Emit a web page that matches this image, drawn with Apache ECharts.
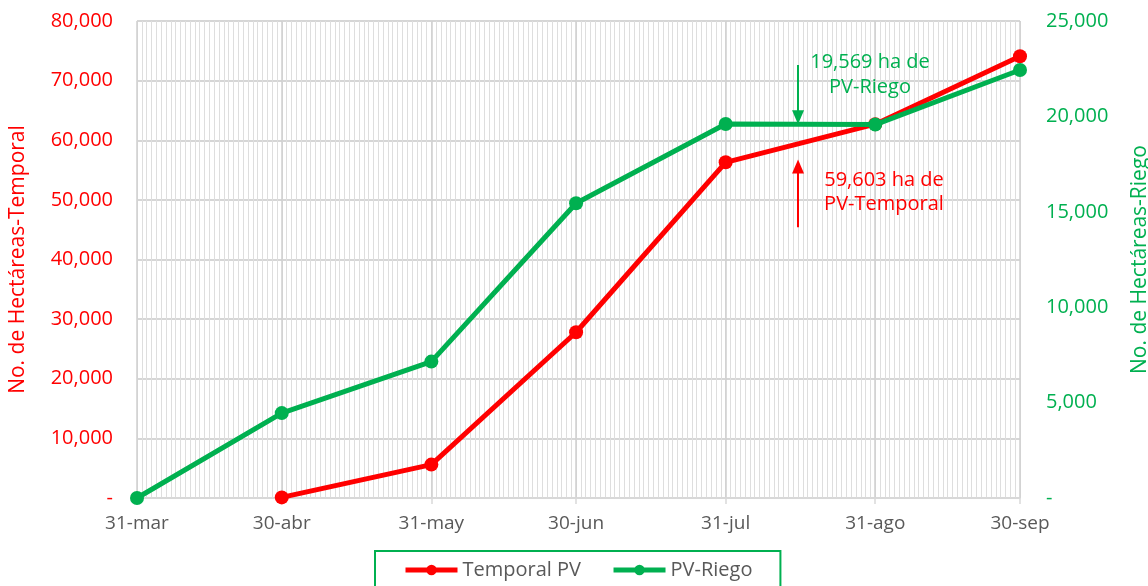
<!DOCTYPE html>
<html>
<head>
<meta charset="utf-8">
<script src="https://cdn.jsdelivr.net/npm/echarts@6/dist/echarts.min.js"></script>
<style>
  html, body { margin: 0; padding: 0; background: #fff; }
  #chart { width: 1148px; height: 586px; }
</style>
</head>
<body>
<div id="chart"></div>
<script>
// month-end dates shown on the x axis
const monthLabels = ['31-mar', '30-abr', '31-may', '30-jun', '31-jul', '31-ago', '30-sep'];
// hectares
const temporalPV = [null, 100, 5600, 27800, 56300, 62700, 74100];
const pvRiego = [0, 4450, 7150, 15450, 19600, 19570, 22430];
const leftTicks = [0, 80000, 10000];
const rightTicks = [0, 25000, 5000];

const fontFamily = '"Open Sans", "Noto Sans", sans-serif';
const red = '#ff0000';
const green = '#00b050';
const textGrey = '#595959';

// one category per day from 31-mar to 30-sep
const monthNames = ['ene', 'feb', 'mar', 'abr', 'may', 'jun', 'jul', 'ago', 'sep', 'oct', 'nov', 'dic'];
const days = [];
for (let d = new Date(2021, 2, 31); d <= new Date(2021, 8, 30); d.setDate(d.getDate() + 1)) {
  days.push(d.getDate() + '-' + monthNames[d.getMonth()]);
}
const isMonthEnd = (i) => monthLabels.includes(days[i]);
const fmt = (v) => (v === 0 ? '-' : v.toLocaleString('en-US'));

const chart = echarts.init(document.getElementById('chart'));

chart.setOption({
  animation: false,
  textStyle: { fontFamily },
  grid: { left: 137, right: 128, top: 21, bottom: 88, outerBoundsMode: 'none' },
  legend: {
    left: 375,
    top: 551,
    padding: [9, 28, 14, 28],
    itemWidth: 52,
    itemHeight: 13,
    itemGap: 30,
    borderColor: green,
    borderWidth: 2,
    lineStyle: { width: 5 },
    textStyle: { color: textGrey, fontSize: 20, fontFamily }
  },
  xAxis: [{
    type: 'category',
    data: days,
    boundaryGap: false,
    axisLine: { lineStyle: { color: '#d9d9d9', width: 1.5 } },
    axisTick: { interval: (i) => isMonthEnd(i), length: 6, lineStyle: { color: '#d9d9d9', width: 1.5 } },
    axisLabel: { interval: (i) => isMonthEnd(i), color: textGrey, fontSize: 19, margin: 16 },
    splitLine: { show: true, interval: 0, lineStyle: { color: '#dedede', width: 1 } }
  }, {
    type: 'category',
    data: days,
    boundaryGap: false,
    position: 'bottom',
    axisLine: { show: false },
    axisTick: { show: false },
    axisLabel: { show: false },
    splitLine: { show: true, interval: (i) => isMonthEnd(i), lineStyle: { color: '#cfcfcf', width: 1.5 } }
  }],
  yAxis: [{
    type: 'value',
    min: leftTicks[0],
    max: leftTicks[1],
    interval: leftTicks[2],
    name: 'No. de Hectáreas-Temporal',
    nameLocation: 'middle',
    nameRotate: 90,
    nameGap: 108,
    nameTextStyle: { color: red, fontSize: 21 },
    axisLine: { show: false },
    axisTick: { show: false },
    axisLabel: { color: red, fontSize: 20, margin: 24, formatter: fmt },
    splitLine: { lineStyle: { color: '#c8c8c8', width: 1.5 } }
  }, {
    type: 'value',
    min: rightTicks[0],
    max: rightTicks[1],
    interval: rightTicks[2],
    name: 'No. de Hectáreas-Riego',
    nameLocation: 'middle',
    nameRotate: 90,
    nameGap: 110,
    nameTextStyle: { color: green, fontSize: 21 },
    axisLine: { show: false },
    axisTick: { show: false },
    axisLabel: { color: green, fontSize: 20, margin: 26, formatter: fmt },
    splitLine: { show: false }
  }],
  series: [{
    name: 'Temporal PV',
    type: 'line',
    yAxisIndex: 0,
    data: monthLabels.map((d, i) => [days.indexOf(d), temporalPV[i]]).filter((p) => p[1] !== null),
    symbol: 'circle',
    symbolSize: 14,
    itemStyle: { color: red },
    lineStyle: { color: red, width: 5 },
    z: 3,
    markLine: {
      silent: true,
      symbol: ['none', 'triangle'],
      symbolSize: [12, 14],
      lineStyle: { color: red, width: 2, type: 'solid' },
      label: { show: false },
      data: [[{ coord: [days.indexOf('15-ago'), 45400] }, { coord: [days.indexOf('15-ago'), 55600] }]]
    }
  }, {
    name: 'PV-Riego',
    type: 'line',
    yAxisIndex: 1,
    data: monthLabels.map((d, i) => [days.indexOf(d), pvRiego[i]]),
    symbol: 'circle',
    symbolSize: 14,
    itemStyle: { color: green },
    lineStyle: { color: green, width: 5 },
    z: 4,
    markLine: {
      silent: true,
      symbol: ['none', 'triangle'],
      symbolSize: [12, 14],
      lineStyle: { color: green, width: 2, type: 'solid' },
      label: { show: false },
      data: [[{ coord: [days.indexOf('15-ago'), 22700] }, { coord: [days.indexOf('15-ago'), 19950] }]]
    }
  }],
  graphic: [{
    type: 'text',
    x: 870,
    y: 50,
    z: 10,
    style: {
      text: '19,569 ha de\nPV-Riego',
      fill: green,
      font: '20px ' + fontFamily,
      align: 'center',
      lineWidth: 0,
      lineHeight: 25
    }
  }, {
    type: 'text',
    x: 884,
    y: 168,
    z: 10,
    style: {
      text: '59,603 ha de\nPV-Temporal',
      fill: red,
      font: '20px ' + fontFamily,
      align: 'center',
      lineWidth: 0,
      lineHeight: 24
    }
  }]
});
</script>
</body>
</html>
